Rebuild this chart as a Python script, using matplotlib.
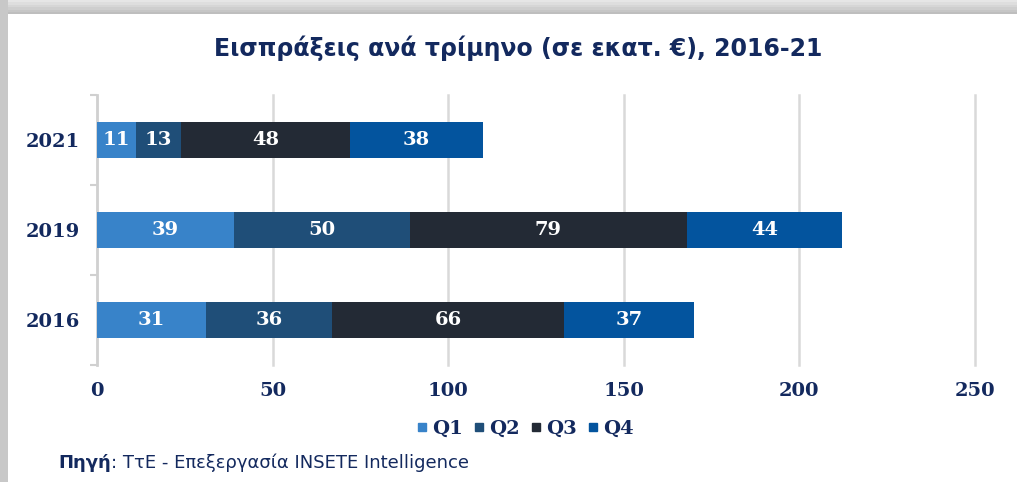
import matplotlib

matplotlib.use("Agg")
import matplotlib.pyplot as plt
from matplotlib.lines import Line2D
from matplotlib.patches import Rectangle

# data (εκατ. €)
years = ["2016", "2019", "2021"]
quarters = ["Q1", "Q2", "Q3", "Q4"]
q1 = [31, 39, 11]
q2 = [36, 50, 13]
q3 = [66, 79, 48]
q4 = [37, 44, 38]
xticks = [0, 50, 100, 150, 200, 250]

colors = ["#3883c9", "#1f4e78", "#232a35", "#03549e"]
NAVY = "#13295e"
SERIF = "DejaVu Serif"

fig = plt.figure(figsize=(10.17, 4.82), dpi=100)

# shadowed frame (gray strip along top and left)
shades = ["#e6e6e6", "#dedede", "#d6d6d6", "#cecece", "#c6c6c6", "#bebebe"]
H = 482
for i, c in enumerate(shades):
    y0 = 1 - (i + 1) * 2.4 / H
    fig.patches.append(Rectangle((0, y0), 1, 2.4 / H, transform=fig.transFigure,
                                 color=c, lw=0, zorder=0))
fig.patches.append(Rectangle((0, 0), 8 / 1017, 1, transform=fig.transFigure,
                             color="#c8c8c8", lw=0, zorder=0))

ax = fig.add_axes([97 / 1017, 1 - 365 / 482, 878 / 1017, 270 / 482])

series = [q1, q2, q3, q4]
left = [0] * len(years)
for vals, col, name in zip(series, colors, quarters):
    bars = ax.barh(range(len(years)), vals, left=left, height=0.4, color=col,
                   label=name, zorder=3)
    for b, v in zip(bars, vals):
        ax.text(b.get_x() + b.get_width() / 2, b.get_y() + b.get_height() / 2,
                str(v), ha="center", va="center", color="white",
                fontsize=14, fontweight="bold", family=SERIF, zorder=4)
    left = [l + v for l, v in zip(left, vals)]

ax.set_xlim(0, 250)
ax.set_ylim(-0.5, 2.5)
ax.set_xticks(xticks)
ax.set_xticklabels([str(t) for t in xticks])
ax.set_yticks(range(len(years)))
ax.set_yticklabels(years)
ax.set_yticks([-0.5, 0.5, 1.5, 2.5], minor=True)
ax.tick_params(axis="y", which="major", length=0, pad=12)
ax.tick_params(axis="y", which="minor", length=5, color="#d0d0d0", width=1.5)
ax.tick_params(axis="x", length=0, pad=12)
for lab in ax.get_xticklabels() + ax.get_yticklabels():
    lab.set_family(SERIF)
    lab.set_fontweight("bold")
    lab.set_fontsize(14)
    lab.set_color(NAVY)

ax.grid(axis="x", color="#d9d9d9", lw=1.8, zorder=0)
for gl in ax.xaxis.get_gridlines():
    gl.set_clip_on(False)
for s in ["top", "right", "bottom"]:
    ax.spines[s].set_visible(False)
ax.spines["left"].set_color("#d0d0d0")
ax.spines["left"].set_linewidth(1.8)

fig.text(0.51, 1 - 48 / 482, "Εισπράξεις ανά τρίμηνο (σε εκατ. €), 2016-21",
         ha="center", va="center", fontsize=17, fontweight="bold", color=NAVY)

handles = [Line2D([], [], marker="s", ls="", color=c, markersize=6) for c in colors]
fig.legend(handles, quarters, loc="center", bbox_to_anchor=(525 / 1017, 1 - 429 / 482),
           ncol=4, frameon=False, handlelength=0.6, handletextpad=0.2,
           columnspacing=0.55, prop={"family": SERIF, "weight": "bold", "size": 14},
           labelcolor=NAVY)

src = fig.text(58 / 1017, 1 - 463 / 482, "Πηγή", ha="left", va="center",
               fontsize=13, fontweight="bold", color=NAVY)
ax.annotate(": ΤτΕ - Επεξεργασία INSETE Intelligence", xy=(1, 0), xycoords=src,
            ha="left", va="bottom", fontsize=13, color=NAVY, annotation_clip=False)

fig.savefig("out.png", dpi=100, facecolor="white")
